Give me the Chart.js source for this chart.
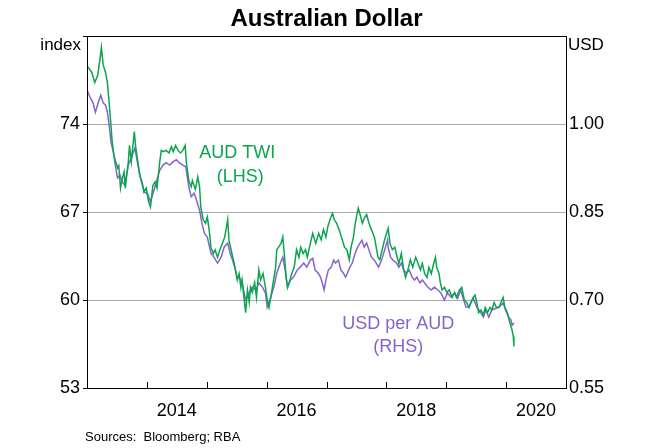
<!DOCTYPE html>
<html>
<head>
<meta charset="utf-8">
<script src="https://cdn.jsdelivr.net/npm/chart.js@4"></script>
<style>
  html, body { margin: 0; padding: 0; background: #fff; }
  #wrap { width: 660px; height: 448px; }
</style>
</head>
<body>
<div id="wrap"><canvas id="c" width="660" height="448"></canvas></div>
<script>
// AUD TWI (LHS), decimal years
const twiDates = [2013.00,2013.02,2013.08,2013.13,2013.18,2013.22,2013.24,2013.27,2013.31,2013.34,2013.37,2013.40,2013.42,2013.45,2013.48,2013.51,2013.53,2013.56,2013.59,2013.62,2013.64,2013.69,2013.71,2013.74,2013.79,2013.81,2013.84,2013.88,2013.92,2013.95,2013.99,2014.03,2014.06,2014.10,2014.14,2014.17,2014.21,2014.24,2014.28,2014.32,2014.37,2014.41,2014.44,2014.48,2014.52,2014.56,2014.60,2014.64,2014.66,2014.70,2014.74,2014.76,2014.81,2014.85,2014.88,2014.90,2014.94,2014.98,2015.01,2015.04,2015.07,2015.11,2015.14,2015.18,2015.22,2015.26,2015.30,2015.35,2015.37,2015.42,2015.46,2015.49,2015.51,2015.54,2015.57,2015.59,2015.62,2015.65,2015.68,2015.71,2015.73,2015.76,2015.80,2015.83,2015.87,2015.90,2015.94,2015.98,2016.01,2016.04,2016.07,2016.11,2016.15,2016.17,2016.20,2016.24,2016.27,2016.30,2016.33,2016.35,2016.39,2016.42,2016.46,2016.50,2016.54,2016.57,2016.61,2016.65,2016.68,2016.73,2016.77,2016.82,2016.87,2016.91,2016.95,2016.99,2017.02,2017.06,2017.10,2017.13,2017.17,2017.21,2017.25,2017.30,2017.34,2017.38,2017.41,2017.45,2017.48,2017.50,2017.53,2017.56,2017.60,2017.63,2017.67,2017.71,2017.75,2017.80,2017.83,2017.86,2017.89,2017.93,2017.97,2018.03,2018.06,2018.10,2018.14,2018.18,2018.21,2018.25,2018.29,2018.32,2018.36,2018.40,2018.44,2018.49,2018.53,2018.57,2018.60,2018.64,2018.68,2018.71,2018.75,2018.79,2018.82,2018.84,2018.88,2018.90,2018.93,2018.97,2019.01,2019.05,2019.10,2019.14,2019.17,2019.22,2019.26,2019.30,2019.34,2019.38,2019.41,2019.45,2019.48,2019.51,2019.54,2019.58,2019.62,2019.65,2019.69,2019.73,2019.76,2019.80,2019.84,2019.88,2019.93,2019.95,2019.98,2020.02,2020.05,2020.08,2020.10,2020.12,2020.13];
const twiValues = [78.6,78.5,78.1,77.3,77.9,79.3,80.1,78.7,78.1,77.3,75.7,73.9,72.6,71.5,71.0,70.5,70.7,68.9,69.7,70.2,68.9,71.0,72.3,71.0,73.4,72.3,71.3,69.9,69.4,68.6,68.9,67.8,67.4,69.1,69.4,68.9,70.8,71.9,71.8,71.9,71.7,72.2,71.8,72.3,71.9,71.7,71.9,72.3,70.9,69.5,69.0,69.5,68.8,69.8,69.0,67.4,66.4,66.1,66.6,65.6,64.2,63.7,64.0,63.4,64.0,64.5,65.0,66.4,64.8,63.7,62.9,62.1,61.6,62.1,61.0,61.6,60.2,59.0,60.8,59.8,61.0,60.6,61.4,60.2,62.4,61.6,62.1,61.0,60.0,59.4,60.2,61.4,62.6,64.0,64.2,64.5,65.0,63.4,61.6,61.0,61.6,62.1,62.6,64.0,63.4,64.2,63.7,64.0,63.4,64.5,65.3,64.5,65.3,64.8,65.6,65.0,65.8,66.4,66.9,66.4,66.1,65.6,65.0,64.2,64.0,63.2,64.2,65.0,66.1,66.6,67.3,66.8,66.1,66.5,66.8,66.1,65.6,65.0,64.2,63.4,63.2,64.0,64.8,65.7,64.5,64.0,64.2,63.4,62.9,63.7,62.4,61.8,62.4,63.2,62.6,63.4,62.9,62.4,62.9,62.1,61.8,62.6,62.1,62.9,63.4,62.6,62.1,61.4,60.8,61.0,60.6,60.8,60.2,60.6,60.2,60.8,61.0,60.0,59.8,59.4,59.8,60.2,60.4,59.8,59.0,59.2,58.8,59.4,59.0,59.4,59.2,59.8,59.4,59.4,60.0,60.2,59.4,59.0,58.4,57.9,57.6,57.1,56.3];

// USD per AUD (RHS), decimal years
const usdDates = [2013.00,2013.05,2013.10,2013.14,2013.19,2013.23,2013.27,2013.31,2013.34,2013.37,2013.40,2013.44,2013.48,2013.51,2013.55,2013.59,2013.63,2013.69,2013.74,2013.80,2013.85,2013.91,2013.96,2014.02,2014.06,2014.13,2014.21,2014.27,2014.32,2014.38,2014.43,2014.49,2014.54,2014.60,2014.65,2014.70,2014.74,2014.79,2014.83,2014.88,2014.92,2014.96,2015.01,2015.07,2015.12,2015.18,2015.24,2015.29,2015.35,2015.39,2015.43,2015.48,2015.51,2015.54,2015.59,2015.65,2015.71,2015.76,2015.82,2015.87,2015.93,2015.98,2016.01,2016.07,2016.12,2016.17,2016.23,2016.27,2016.31,2016.35,2016.40,2016.45,2016.51,2016.56,2016.62,2016.67,2016.73,2016.77,2016.81,2016.86,2016.90,2016.93,2016.96,2016.99,2017.03,2017.08,2017.12,2017.15,2017.20,2017.24,2017.28,2017.32,2017.35,2017.39,2017.43,2017.48,2017.52,2017.56,2017.59,2017.63,2017.67,2017.71,2017.75,2017.80,2017.83,2017.87,2017.92,2017.97,2018.02,2018.03,2018.07,2018.11,2018.17,2018.21,2018.25,2018.29,2018.33,2018.38,2018.43,2018.47,2018.51,2018.56,2018.60,2018.64,2018.69,2018.75,2018.80,2018.86,2018.91,2018.97,2019.02,2019.08,2019.14,2019.19,2019.24,2019.30,2019.33,2019.38,2019.45,2019.51,2019.58,2019.62,2019.66,2019.71,2019.76,2019.83,2019.88,2019.95,2019.99,2020.04,2020.08,2020.10,2020.13];
const usdValues = [1.058,1.046,1.036,1.020,1.037,1.049,1.036,1.032,1.020,0.998,0.969,0.952,0.925,0.908,0.913,0.901,0.896,0.930,0.942,0.959,0.930,0.901,0.884,0.879,0.867,0.891,0.920,0.930,0.934,0.930,0.935,0.939,0.934,0.930,0.927,0.893,0.876,0.882,0.870,0.853,0.831,0.814,0.807,0.780,0.773,0.763,0.773,0.790,0.797,0.780,0.768,0.751,0.737,0.739,0.729,0.700,0.712,0.722,0.717,0.729,0.722,0.712,0.688,0.705,0.722,0.746,0.763,0.773,0.751,0.722,0.734,0.739,0.751,0.756,0.763,0.756,0.768,0.771,0.751,0.746,0.739,0.729,0.717,0.734,0.751,0.756,0.768,0.763,0.768,0.751,0.746,0.739,0.746,0.756,0.763,0.780,0.790,0.797,0.802,0.790,0.797,0.785,0.773,0.768,0.763,0.756,0.768,0.785,0.802,0.790,0.773,0.768,0.763,0.756,0.763,0.751,0.746,0.751,0.739,0.734,0.739,0.729,0.734,0.729,0.722,0.717,0.722,0.717,0.712,0.700,0.712,0.705,0.712,0.703,0.717,0.697,0.688,0.688,0.703,0.688,0.678,0.671,0.683,0.671,0.683,0.686,0.688,0.695,0.683,0.671,0.666,0.657,0.661];

const yearTicks = [2014, 2015, 2016, 2017, 2018, 2019, 2020];
const yearLabels = [2014, 2016, 2018, 2020];
const leftTicks = [53, 60, 67, 74, 81];
const rightTicks = [0.55, 0.70, 0.85, 1.00, 1.15];

const GREEN = '#0aa64e';
const PURPLE = '#8763cc';
const FONT = '"Liberation Sans", Arial, sans-serif';

const decor = {
  id: 'decor',
  afterDraw(chart) {
    const ctx = chart.ctx;
    const a = chart.chartArea;
    const x = chart.scales.x, y = chart.scales.y, y1 = chart.scales.y1;
    ctx.save();
    // frame
    ctx.strokeStyle = '#000';
    ctx.lineWidth = 1;
    ctx.strokeRect(Math.round(a.left) + 0.5, Math.round(a.top) + 0.5,
                   Math.round(a.right - a.left), Math.round(a.bottom - a.top));
    // year ticks, pointing up from the bottom axis
    ctx.beginPath();
    yearTicks.forEach(t => {
      const px = Math.round(x.getPixelForValue(t)) + 0.5;
      ctx.moveTo(px, a.bottom);
      ctx.lineTo(px, a.bottom - 6);
    });
    ctx.stroke();
    // title and units
    ctx.fillStyle = '#000';
    ctx.textBaseline = 'middle';
    ctx.textAlign = 'center';
    ctx.font = 'bold 24px ' + FONT;
    ctx.fillText('Australian Dollar', (a.left + a.right) / 2, 19);
    ctx.font = '17px ' + FONT;
    ctx.textAlign = 'right';
    ctx.fillText('index', a.left - 6, 45);
    ctx.textAlign = 'left';
    ctx.fillText('USD', a.right + 2, 45);
    // series labels
    ctx.font = '18px ' + FONT;
    ctx.textAlign = 'center';
    ctx.fillStyle = GREEN;
    ctx.fillText('AUD TWI', x.getPixelForValue(2015.51), y.getPixelForValue(71.7));
    ctx.fillText('(LHS)', x.getPixelForValue(2015.56), y.getPixelForValue(69.8));
    ctx.fillStyle = PURPLE;
    ctx.fillText('USD per AUD', x.getPixelForValue(2018.2), y1.getPixelForValue(0.659));
    ctx.fillText('(RHS)', x.getPixelForValue(2018.2), y1.getPixelForValue(0.620));
    // sources
    ctx.fillStyle = '#000';
    ctx.font = '13px ' + FONT;
    ctx.textAlign = 'left';
    ctx.fillText('Sources:  Bloomberg; RBA', 85, 437);
    ctx.restore();
  }
};

new Chart(document.getElementById('c'), {
  type: 'line',
  data: {
    datasets: [
      {
        label: 'AUD TWI',
        data: twiDates.map((t, i) => ({ x: t, y: twiValues[i] })),
        yAxisID: 'y',
        borderColor: GREEN,
        borderWidth: 1.5,
        pointRadius: 0,
        tension: 0
      },
      {
        label: 'USD per AUD',
        data: usdDates.map((t, i) => ({ x: t, y: usdValues[i] })),
        yAxisID: 'y1',
        borderColor: PURPLE,
        borderWidth: 1.5,
        pointRadius: 0,
        tension: 0
      }
    ]
  },
  options: {
    responsive: false,
    animation: false,
    layout: { padding: { top: 36, left: 0, right: 0, bottom: 0 } },
    plugins: { legend: { display: false }, tooltip: { enabled: false }, title: { display: false } },
    scales: {
      x: {
        type: 'linear',
        min: 2013,
        max: 2021,
        afterBuildTicks: s => { s.ticks = yearLabels.map(v => ({ value: v + 0.5 })); },
        afterFit: s => { s.height = 60; },
        grid: { display: false, drawTicks: false },
        border: { display: false },
        ticks: {
          padding: 12,
          maxRotation: 0,
          autoSkip: false,
          color: '#000',
          font: { family: FONT, size: 18 },
          callback: v => String(Math.floor(v))
        }
      },
      y: {
        position: 'left',
        min: 53,
        max: 81,
        afterBuildTicks: s => { s.ticks = leftTicks.map(v => ({ value: v })); },
        afterFit: s => { s.width = 87; },
        grid: { color: '#aaaaaa', lineWidth: 1, tickColor: '#000', tickLength: 4 },
        border: { display: false },
        ticks: {
          padding: 3,
          color: '#000',
          font: { family: FONT, size: 18 },
          callback: v => (v === 81 ? '' : String(v))
        }
      },
      y1: {
        position: 'right',
        min: 0.55,
        max: 1.15,
        afterBuildTicks: s => { s.ticks = rightTicks.map(v => ({ value: v })); },
        afterFit: s => { s.width = 94; },
        grid: { drawOnChartArea: false, drawTicks: false },
        border: { display: false },
        ticks: {
          padding: 3,
          color: '#000',
          font: { family: FONT, size: 18 },
          callback: v => (Math.abs(v - 1.15) < 1e-6 ? '' : v.toFixed(2))
        }
      }
    }
  },
  plugins: [decor]
});
</script>
</body>
</html>
